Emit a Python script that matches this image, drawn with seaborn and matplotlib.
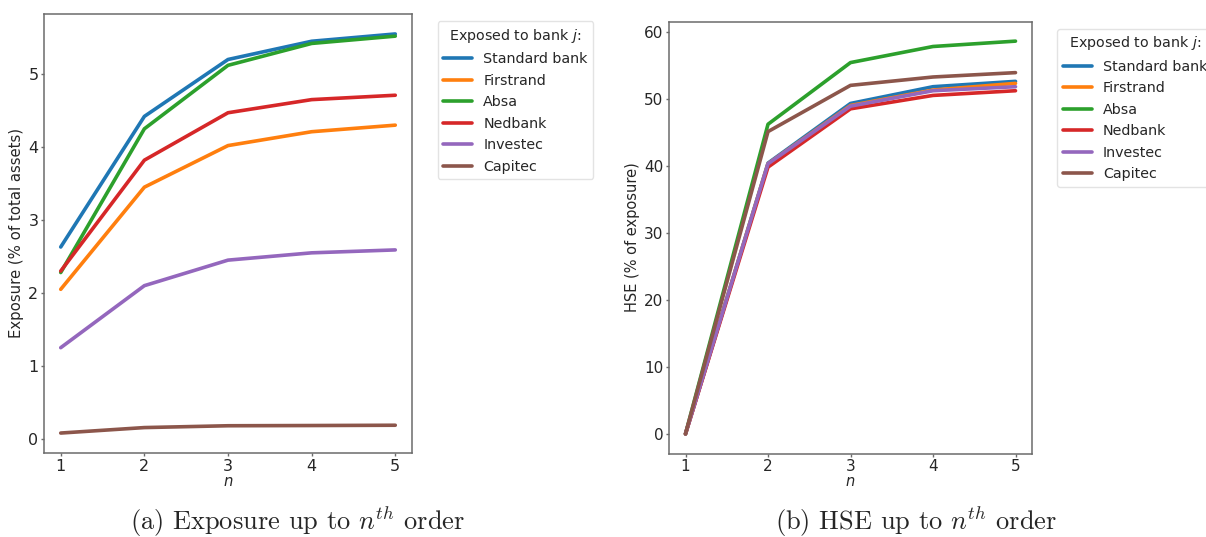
import matplotlib
matplotlib.use("Agg")
import matplotlib.pyplot as plt
import seaborn as sns
import pandas as pd

# Interconnectedness of the six large South African banks, by network order n
orders = [1, 2, 3, 4, 5]
banks = ["Standard bank", "Firstrand", "Absa", "Nedbank", "Investec", "Capitec"]

# Exposure to bank j up to order n (% of total assets)
exposure_standard = [2.63, 4.42, 5.20, 5.45, 5.55]
exposure_firstrand = [2.05, 3.45, 4.02, 4.21, 4.30]
exposure_absa = [2.28, 4.25, 5.12, 5.42, 5.52]
exposure_nedbank = [2.30, 3.82, 4.47, 4.65, 4.71]
exposure_investec = [1.25, 2.10, 2.45, 2.55, 2.59]
exposure_capitec = [0.08, 0.155, 0.18, 0.183, 0.187]

# Higher-order systemic exposure up to order n (% of exposure)
hse_standard = [0.0, 40.4, 49.3, 51.8, 52.6]
hse_firstrand = [0.0, 40.3, 49.0, 51.3, 52.3]
hse_absa = [0.0, 46.2, 55.4, 57.8, 58.6]
hse_nedbank = [0.0, 39.8, 48.5, 50.5, 51.2]
hse_investec = [0.0, 40.3, 48.9, 51.2, 51.8]
hse_capitec = [0.0, 45.1, 52.0, 53.25, 53.9]

exposure = [exposure_standard, exposure_firstrand, exposure_absa,
            exposure_nedbank, exposure_investec, exposure_capitec]
hse = [hse_standard, hse_firstrand, hse_absa,
       hse_nedbank, hse_investec, hse_capitec]


def long_form(series):
    rows = []
    for bank, values in zip(banks, series):
        for n, v in zip(orders, values):
            rows.append({"n": n, "bank": bank, "value": v})
    return pd.DataFrame(rows)


sns.set_theme(style="white")
plt.rcParams["font.family"] = ["DejaVu Sans"]
plt.rcParams["mathtext.fontset"] = "dejavusans"

palette = sns.color_palette("tab10", 6)
spine_color = "#6b6b6b"

fig = plt.figure(figsize=(12.06, 5.37), dpi=100)
ax1 = fig.add_axes([44 / 1206, 1 - 453 / 537, 368 / 1206, 439 / 537])
ax2 = fig.add_axes([669 / 1206, 1 - 453.5 / 537, 363 / 1206, 432 / 537])

# (axes, data, y label, y ticks, tick size, label size)
panels = [
    (ax1, exposure, "Exposure (% of total assets)", [0, 1, 2, 3, 4, 5], 11.5, 10.7),
    (ax2, hse, "HSE (% of exposure)", [0, 10, 20, 30, 40, 50, 60], 11, 10.5),
]

for ax, series, ylabel, yticks, tsize, lsize in panels:
    sns.lineplot(data=long_form(series), x="n", y="value", hue="bank",
                 hue_order=banks, palette=palette, linewidth=2.6, ax=ax)
    ax.set_xticks(orders)
    ax.set_yticks(yticks)
    ax.set_xlabel("$n$", fontsize=lsize, labelpad=0)
    ax.set_ylabel(ylabel, fontsize=lsize, labelpad=3)
    ax.tick_params(axis="both", labelsize=tsize, length=2, width=1,
                   color=spine_color, bottom=True, left=True, pad=2)
    for s in ax.spines.values():
        s.set_color(spine_color)
        s.set_linewidth(1.1)
    leg = ax.legend(title="Exposed to bank $j$:", loc="upper left",
                    bbox_to_anchor=(1.05, 1), fontsize=10.3, title_fontsize=10.3,
                    frameon=True, handlelength=2.0, labelspacing=0.52)
    leg.get_frame().set_edgecolor("#dddddd")
    for line in leg.get_lines():
        line.set_linewidth(2.6)

plt.rcParams["mathtext.fontset"] = "cm"
caption_kw = dict(ha="center", va="center", fontsize=19, family="cmr10")
fig.text(298 / 1206, 1 - 521 / 537, r"(a) Exposure up to $n^{th}$ order", **caption_kw)
fig.text(916 / 1206, 1 - 521 / 537, r"(b) HSE up to $n^{th}$ order", **caption_kw)

fig.savefig("out.png", dpi=100)
